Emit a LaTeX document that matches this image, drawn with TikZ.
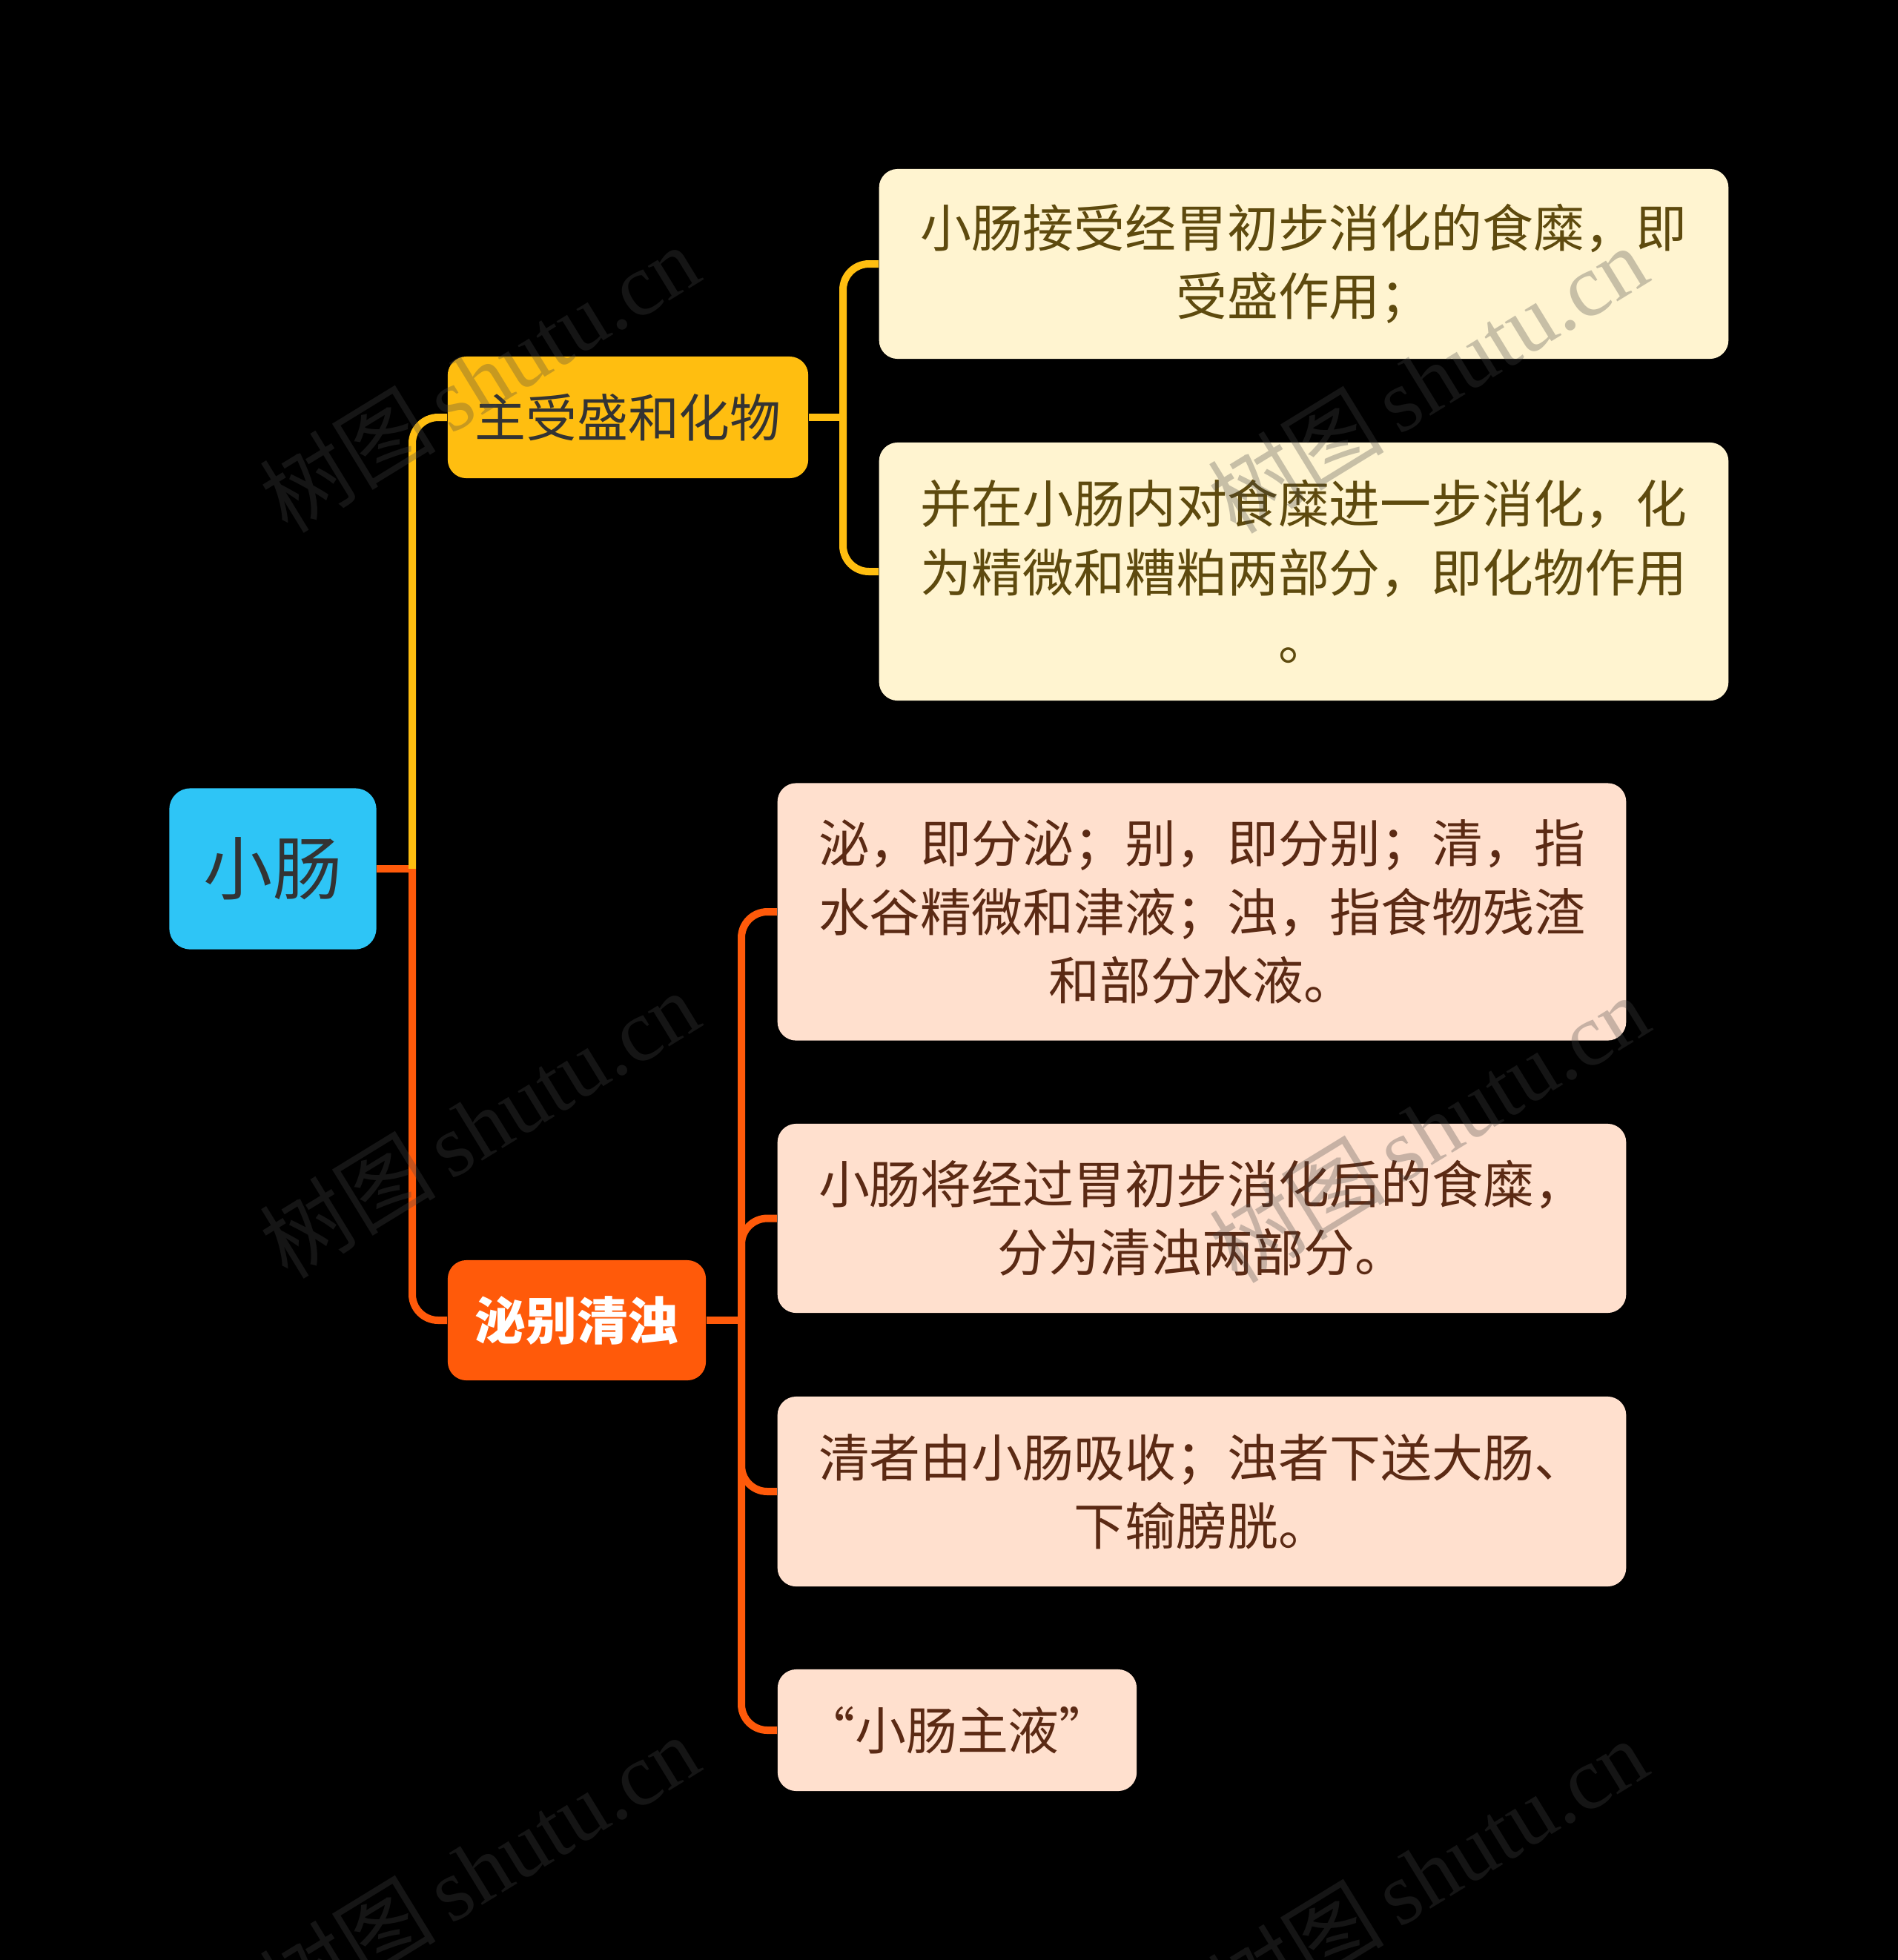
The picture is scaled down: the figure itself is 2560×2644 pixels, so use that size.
\documentclass[tikz,border=0pt]{standalone}
\usepackage{fontspec}
\setmainfont{Noto Sans CJK SC}
\newfontfamily\wmcjk{Noto Sans CJK SC}
\newfontfamily\wmlat{Liberation Serif}
\definecolor{rootc}{HTML}{2EC5F6}
\definecolor{yelc}{HTML}{FFBE10}
\definecolor{orac}{HTML}{FF5A0A}
\definecolor{creamc}{HTML}{FFF4D0}
\definecolor{peachc}{HTML}{FFE0CE}
\definecolor{darkt}{HTML}{333333}
\definecolor{olivet}{HTML}{5E4A0E}
\definecolor{brownt}{HTML}{5B2A14}
\definecolor{wmc}{HTML}{464646}
\tikzset{
  x=0.01cm, y=-0.01cm,
  basebox/.style={rounded corners=0.25cm, inner sep=0pt, align=center,
    font=\fontsize{19.6pt}{26.2pt}\selectfont},
  rootbox/.style={basebox, fill=rootc, text=darkt, minimum width=2.79cm, minimum height=2.17cm,
    rounded corners=0.28cm, font=\fontsize{26.5pt}{30pt}\selectfont},
  yelbox/.style={basebox, fill=yelc, text=darkt},
  orabox/.style={basebox, fill=orac, text=white, font=\fontsize{19.6pt}{26.2pt}\selectfont\bfseries},
  creambox/.style={basebox, fill=creamc, text=olivet, minimum width=11.45cm},
  peachbox/.style={basebox, fill=peachc, text=brownt},
  yline/.style={draw=yelc, line width=0.1cm, rounded corners=0.35cm},
  oline/.style={draw=orac, line width=0.1cm, rounded corners=0.35cm},
  wm/.style={text=wmc, text opacity=0.3, inner sep=0pt, rotate=31.5,
    font=\fontsize{34pt}{38pt}\selectfont},
}
\begin{document}
\begin{tikzpicture}
\fill[black] (0,0) rectangle (2560,2644);
\useasboundingbox (0,0) rectangle (2560,2644);

% nodes
\node[rootbox] (root) at (368,1172) {小肠};
\node[yelbox, minimum width=4.86cm, minimum height=1.64cm] (b1) at (847,563) {主受盛和化物};
\node[orabox, minimum width=3.48cm, minimum height=1.62cm] (b2) at (778,1781) {泌别清浊};

\node[creambox, minimum height=2.56cm] (l1) at (1758.5,356) {小肠接受经胃初步消化的食糜，即\\受盛作用；};
\node[creambox, minimum height=3.48cm] (l2) at (1758.5,771) {并在小肠内对食糜进一步消化，化\\为精微和糟粕两部分，即化物作用\\。};

\node[peachbox, minimum width=11.44cm, minimum height=3.47cm] (l3) at (1621,1230) {泌，即分泌；别，即分别；清，指\\水谷精微和津液；浊，指食物残渣\\和部分水液。};
\node[peachbox, minimum width=11.44cm, minimum height=2.55cm] (l4) at (1621,1643.5) {小肠将经过胃初步消化后的食糜，\\分为清浊两部分。};
\node[peachbox, minimum width=11.44cm, minimum height=2.56cm] (l5) at (1621,2012) {清者由小肠吸收；浊者下送大肠、\\下输膀胱。};
\node[peachbox, minimum width=4.84cm, minimum height=1.64cm] (l6) at (1291,2334) {“小肠主液”};

% junction coordinates
\coordinate (j0) at (556,1172);
\coordinate (j1) at (1137,563);
\coordinate (j2) at (1000,1781);

% connectors
\draw[oline] (root.east) -- (j0);
\draw[yline] (j0) |- (b1.west);
\draw[oline] (j0) |- (b2.west);

\draw[yline] (b1.east) -- (j1);
\draw[yline] (j1) |- (l1.west);
\draw[yline] (j1) |- (l2.west);

\draw[oline] (b2.east) -- (j2);
\draw[oline] (j2) |- (l3.west);
\draw[oline] (j2) |- (l4.west);
\draw[oline] (j2) |- (l5.west);
\draw[oline] (j2) |- (l6.west);

% watermarks
\node[wm] (w1) at (646,510) {\wmcjk 树图\wmlat\,shutu.cn};
\node[wm] (w2) at (1925,511) {\wmcjk 树图\wmlat\,shutu.cn};
\node[wm] (w3) at (646,1516) {\wmcjk 树图\wmlat\,shutu.cn};
\node[wm] (w4) at (1927,1522) {\wmcjk 树图\wmlat\,shutu.cn};
\node[wm] (w5) at (646,2520) {\wmcjk 树图\wmlat\,shutu.cn};
\node[wm] (w6) at (1925,2525) {\wmcjk 树图\wmlat\,shutu.cn};
\end{tikzpicture}
\end{document}
